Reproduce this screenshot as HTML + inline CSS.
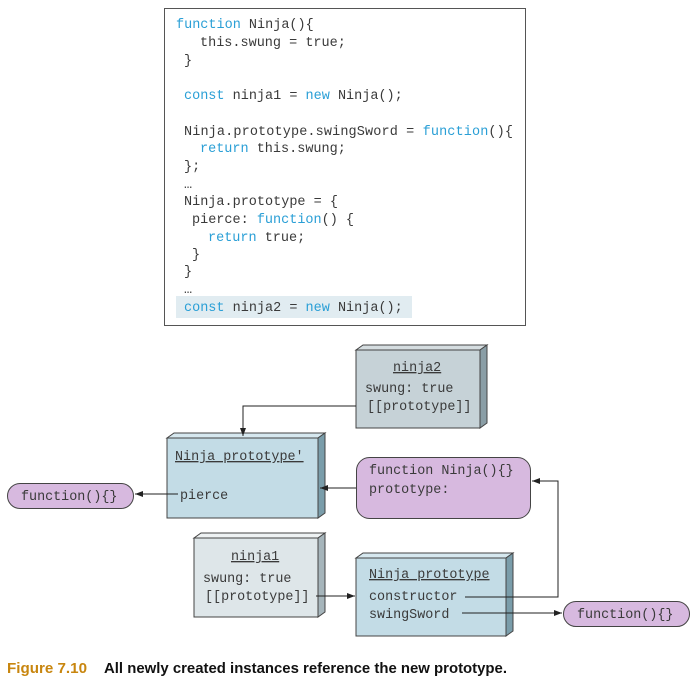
<!DOCTYPE html>
<html><head><meta charset="utf-8"><style>
html,body{margin:0;padding:0;background:#fff;}
svg{display:block}
.c{font-family:"Liberation Mono",monospace;font-size:13.5px;fill:#3a3a3a;}
.k{fill:#2a9fd6;}
.d{font-family:"Liberation Mono",monospace;font-size:13.4px;fill:#3a3a3a;}
</style></head><body>
<svg width="697" height="682" viewBox="0 0 697 682" xmlns="http://www.w3.org/2000/svg">
<defs><marker id="a" markerWidth="8" markerHeight="6" refX="8" refY="3" orient="auto" markerUnits="userSpaceOnUse"><path d="M0,0 L8,3 L0,6z" fill="#222"/></marker></defs>
<rect x="164.5" y="8.5" width="361" height="317" fill="#fff" stroke="#555"/>
<rect x="176" y="296" width="236" height="22" fill="#e1ecf1"/>
<g class="c">
<text x="176" y="28"><tspan class="k">function</tspan> Ninja(){</text>
<text x="200" y="46">this.swung = true;</text>
<text x="184" y="64">}</text>
<text x="184" y="99"><tspan class="k">const</tspan> ninja1 = <tspan class="k">new</tspan> Ninja();</text>
<text x="184" y="135" textLength="329">Ninja.prototype.swingSword = <tspan class="k">function</tspan>(){</text>
<text x="200" y="152"><tspan class="k">return</tspan> this.swung;</text>
<text x="184" y="170">};</text>
<text x="184" y="188">…</text>
<text x="184" y="205">Ninja.prototype = {</text>
<text x="192" y="223">pierce: <tspan class="k">function</tspan>() {</text>
<text x="208" y="241"><tspan class="k">return</tspan> true;</text>
<text x="192" y="258">}</text>
<text x="184" y="275">}</text>
<text x="184" y="293">…</text>
<text x="184" y="311"><tspan class="k">const</tspan> ninja2 = <tspan class="k">new</tspan> Ninja();</text>
</g>
<g stroke="#444" stroke-width="1">
<path d="M356,350 L480,350 L487,345 L363,345z" fill="#d5dde0"/>
<path d="M480,350 L487,345 L487,423 L480,428z" fill="#8a9ea6"/>
<rect x="356" y="350" width="124" height="78" fill="#c6d2d7"/>
<path d="M167,438 L318,438 L325,433 L174,433z" fill="#d6e8ef"/>
<path d="M318,438 L325,433 L325,513 L318,518z" fill="#7a9daa"/>
<rect x="167" y="438" width="151" height="80" fill="#c3dce6"/>
<path d="M194,538 L318,538 L325,533 L201,533z" fill="#eef2f3"/>
<path d="M318,538 L325,533 L325,612 L318,617z" fill="#a6b5bb"/>
<rect x="194" y="538" width="124" height="79" fill="#dee6e9"/>
<path d="M356,558 L506,558 L513,553 L363,553z" fill="#d6e8ef"/>
<path d="M506,558 L513,553 L513,631 L506,636z" fill="#7a9daa"/>
<rect x="356" y="558" width="150" height="78" fill="#c3dce6"/>
<rect x="356.5" y="457.5" width="174" height="61" rx="13" fill="#d7b9df"/>
<rect x="7.5" y="483.5" width="126" height="25" rx="12.5" fill="#d7b9df"/>
<rect x="563.5" y="601.5" width="126" height="25" rx="12.5" fill="#d7b9df"/>
</g>
<g class="d">
<text x="393" y="371" text-decoration="underline">ninja2</text>
<text x="365" y="392">swung: true</text>
<text x="367" y="410">[[prototype]]</text>
<text x="175" y="460" text-decoration="underline">Ninja prototype′</text>
<text x="180" y="499">pierce</text>
<text x="369" y="474">function Ninja(){}</text>
<text x="369" y="493">prototype:</text>
<text x="21" y="500">function(){}</text>
<text x="231" y="560" text-decoration="underline">ninja1</text>
<text x="203" y="582">swung: true</text>
<text x="205" y="600">[[prototype]]</text>
<text x="369" y="578" text-decoration="underline">Ninja prototype</text>
<text x="369" y="600">constructor</text>
<text x="369" y="618">swingSword</text>
<text x="577" y="618">function(){}</text>
</g>
<g stroke="#222" stroke-width="1" fill="none">
<path d="M356,406 L243,406 L243,436" marker-end="url(#a)"/>
<path d="M356,488 L320,488" marker-end="url(#a)"/>
<path d="M178,494 L135,494" marker-end="url(#a)"/>
<path d="M316,596 L355,596" marker-end="url(#a)"/>
<path d="M465,597 L558,597 L558,481 L532,481" marker-end="url(#a)"/>
<path d="M462,613 L562,613" marker-end="url(#a)"/>
</g>
<text x="7" y="673" font-family="Liberation Sans,sans-serif" font-weight="bold" font-size="14.5" fill="#c8860f" textLength="80" lengthAdjust="spacingAndGlyphs">Figure 7.10</text>
<text x="104" y="673" font-family="Liberation Sans,sans-serif" font-weight="bold" font-size="14.5" fill="#111" textLength="403" lengthAdjust="spacingAndGlyphs">All newly created instances reference the new prototype.</text>
</svg>
</body></html>
